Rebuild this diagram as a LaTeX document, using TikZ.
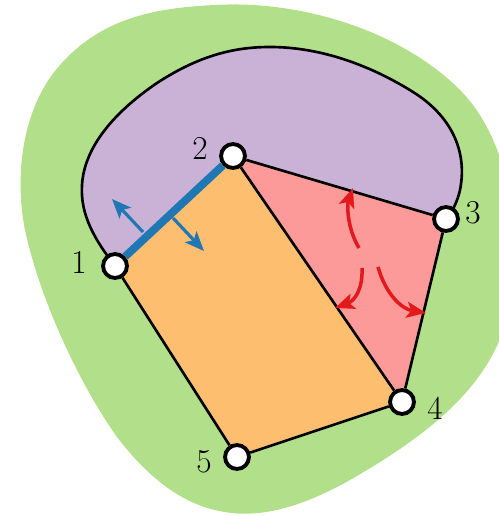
\documentclass[tikz,border=0pt]{standalone}
\usepackage{tikz}
\usetikzlibrary{arrows.meta}

\definecolor{regiongreen}{HTML}{B2DF8A}
\definecolor{regionpurple}{HTML}{CAB2D6}
\definecolor{regionorange}{HTML}{FDBF6F}
\definecolor{regionpink}{HTML}{FB9A99}
\definecolor{arrowred}{HTML}{E31A1C}
\definecolor{edgeblue}{HTML}{1F78B4}

\tikzset{
  vertex/.style={circle, fill=white, draw=black, line width=2.2pt, minimum size=13.6pt, inner sep=0pt},
  edge/.style={draw=black, line width=1.5pt},
  lbl/.style={font=\fontsize{19}{21}\selectfont, inner sep=0pt},
  bluearrow/.style={edgeblue, line width=1.8pt, -{Stealth[length=11pt, width=9pt, inset=2.5pt]}},
  redarrow/.style={arrowred, line width=2pt, -{Stealth[length=11pt, width=9pt, inset=2.5pt]}},
}

\begin{document}
\begin{tikzpicture}[x=0.02cm, y=-0.02cm]
    \useasboundingbox (0,0) rectangle (499,516);
    \clip (0,0) rectangle (499,516);

    % Corners
    \coordinate (c1) at (115,266);
    \coordinate (c2) at (233,156);
    \coordinate (c3) at (446,219);
    \coordinate (c4) at (402,402);
    \coordinate (c5) at (237,457);

    % Outer region
    \fill[regiongreen] (215,5) .. controls (300,0) and (400,30) .. (460,90)
        .. controls (520,150) and (530,280) .. (495,350)
        .. controls (470,400) and (420,440) .. (350,480)
        .. controls (300,508) and (260,518) .. (225,512)
        .. controls (185,506) and (150,480) .. (117,437)
        .. controls (80,385) and (40,300) .. (25,230)
        .. controls (15,180) and (20,110) .. (60,65)
        .. controls (100,20) and (150,8) .. (215,5) -- cycle;

    % Upper region
    \fill[regionpurple] (c1) .. controls (95,240) and (80,215) .. (82,185)
        .. controls (84,150) and (110,115) .. (157,83)
        .. controls (200,55) and (235,47) .. (270,47)
        .. controls (320,47) and (370,65) .. (413,92)
        .. controls (450,115) and (468,150) .. (460,190)
        .. controls (457,203) and (452,212) .. (c3) -- (c2) -- cycle;
    \fill[regionorange] (c1) -- (c2) -- (c4) -- (c5) -- cycle;
    \fill[regionpink] (c2) -- (c3) -- (c4) -- cycle;
    \draw[edge] (c1) .. controls (95,240) and (80,215) .. (82,185)
        .. controls (84,150) and (110,115) .. (157,83)
        .. controls (200,55) and (235,47) .. (270,47)
        .. controls (320,47) and (370,65) .. (413,92)
        .. controls (450,115) and (468,150) .. (460,190)
        .. controls (457,203) and (452,212) .. (c3);

    % Vertices
    \node[vertex] (v1) at (c1) {};
    \node[vertex] (v2) at (c2) {};
    \node[vertex] (v3) at (c3) {};
    \node[vertex] (v4) at (c4) {};
    \node[vertex] (v5) at (c5) {};

    % Edges
    \draw[edge] (v2) -- (v3) -- (v4) -- (v5) -- (v1);
    \draw[edge] (v2) -- (v4);
    \draw[edgeblue, line width=4.5pt] (v1) -- (v2);

    % Blue arrows
    \draw[bluearrow] (143,232) -- (112,199);
    \draw[bluearrow] (173,218) -- (204,251);

    % Red arrows
    \draw[redarrow] (359,248) .. controls (347,228) and (347,205) .. (353,188);
    \draw[redarrow] (362,268) .. controls (363,290) and (354,301) .. (335,308);
    \draw[redarrow] (378,267) .. controls (386,295) and (402,309) .. (426,313);

    % Labels
    \node[lbl] (l1) at (79,262) {1};
    \node[lbl] (l2) at (200,148) {2};
    \node[lbl] (l3) at (473,213) {3};
    \node[lbl] (l4) at (435,408) {4};
    \node[lbl] (l5) at (204,462) {5};
\end{tikzpicture}
\end{document}
